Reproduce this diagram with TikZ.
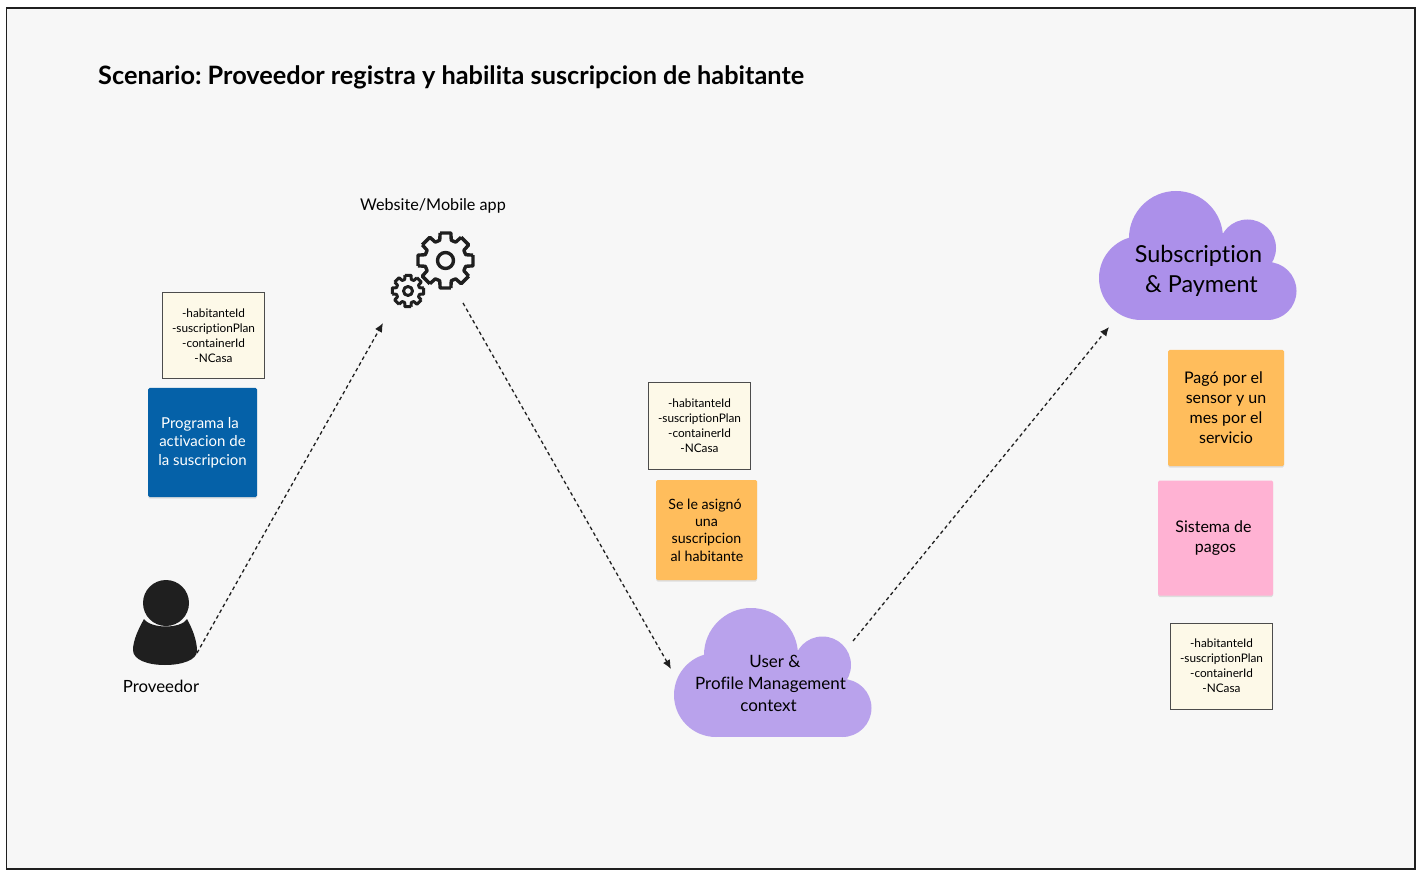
\documentclass[tikz,border=0pt]{standalone}
\usepackage{fontspec}
\setmainfont{Lato}[Ligatures=NoCommon]
\frenchspacing
\usetikzlibrary{arrows.meta,shadows}
\definecolor{bgc}{HTML}{F7F7F7}
\definecolor{ink}{HTML}{1F1F1F}
\definecolor{creamc}{HTML}{FDF9E8}
\definecolor{bluec}{HTML}{0561A8}
\definecolor{orangec}{HTML}{FFBD5C}
\definecolor{pinkc}{HTML}{FFB2D3}
\definecolor{cloudA}{HTML}{B9A2EC}
\definecolor{cloudB}{HTML}{AC90EA}
\tikzset{
  x=1pt,y=-1pt,
  notebox/.style={draw=ink!80,line width=1pt,fill=creamc,align=center,inner sep=0pt,font=\fontsize{11.8}{15}\selectfont,text=black,minimum width=102pt,minimum height=86pt},
  sticky/.style={fill=#1,rounded corners=1.5pt,align=center,inner sep=0pt,font=\fontsize{16}{20}\selectfont,text=black,general shadow={fill=black,opacity=.10,shadow xshift=0pt,shadow yshift=-1.5pt}},
  flow/.style={draw=ink,line width=1.3pt,dash pattern=on 3.6pt off 3pt,-{Latex[length=9pt,width=8pt]}},
  caption/.style={inner sep=0pt,text=black},
  gearline/.style={draw=ink,line join=round},
  cloudtext/.style={align=center,inner sep=0pt,text=black}
}
\newcommand{\cloudblob}[3]{%
  \begin{scope}[shift={(#1,#2)}]
    \fill[#3] (750,655) circle[radius=47];
    \fill[#3] (821.5,665) circle[radius=28.5];
    \fill[#3] (715,695) circle[radius=42];
    \fill[#3] (841.5,708) circle[radius=29];
    \fill[#3] (715,670) rectangle (841.5,737);
  \end{scope}}
\newcommand{\gearshape}[5]{% cx cy outer root width
  \draw[gearline,line width=#5] (#1,#2)
   \foreach \k in {0,...,7}{
     ++(0,0) ({#1+#3*cos(45*\k-11)},{#2+#3*sin(45*\k-11)})
     -- ({#1+#3*cos(45*\k+11)},{#2+#3*sin(45*\k+11)})
     -- ({#1+#4*cos(45*\k+16)},{#2+#4*sin(45*\k+16)})
     -- ({#1+#4*cos(45*\k+29)},{#2+#4*sin(45*\k+29)})
     -- ({#1+#3*cos(45*\k+34)},{#2+#3*sin(45*\k+34)})
   };}
\begin{document}
\begin{tikzpicture}
\useasboundingbox (0,0) rectangle (1419,874);
\fill[white] (0,0) rectangle (1419,874);
\draw[draw=ink,line width=1.6pt,fill=bgc] (6.5,8) rectangle (1415,869);
\node[anchor=west,inner sep=0pt,font=\fontsize{25.3}{30}\selectfont\bfseries,text=black] (title) at (98,77.5) {Scenario: Proveedor registra y habilita suscripcion de habitante};

% person
\fill[ink] (166,603) circle[radius=23];
\fill[ink] (144,619) .. controls (151,629) and (181,629) .. (187,619)
  .. controls (192,628) and (197,640) .. (197,651)
  .. controls (197,660) and (182,665) .. (165,665)
  .. controls (148,665) and (133,660) .. (133,650)
  .. controls (133,640) and (139,628) .. (144,619) -- cycle;
\node[caption,font=\fontsize{16.8}{20}\selectfont] (prov) at (161,686.5) {Proveedor};
\coordinate (provOut) at (197,653);

% gears
\node[caption,font=\fontsize{16.2}{20}\selectfont] (web) at (433,205.5) {Website/Mobile app};
\gearshape{445.5}{260.5}{28}{21}{3.4pt}
\draw[gearline,line width=3.4pt] (445.5,260.5) circle[radius=8];
\gearshape{408}{291}{16}{12}{3pt}
\draw[gearline,line width=3pt] (408,291) circle[radius=4.5];
\coordinate (appIn) at (383,323);
\coordinate (appOut) at (463,303);

% clouds
\cloudblob{1}{0}{cloudA}
\cloudblob{426}{-417}{cloudB}
\node[cloudtext,font=\fontsize{17}{22}\selectfont] (upm) at (770.5,683.5) {\hspace*{9pt}User \&\\Profile Management\\context\hspace*{4pt}};
\node[cloudtext,font=\fontsize{23.4}{30}\selectfont] (subs) at (1198.5,270.5) {Subscription\\\hspace*{6pt}\& Payment};
\coordinate (upmIn) at (671,669);
\coordinate (upmOut) at (853,641);
\coordinate (subsIn) at (1109,327);

% notes
\node[notebox] (n1) at (213.5,336) {-habitanteId\\-suscriptionPlan\\-containerId\\-NCasa};
\node[notebox] (n2) at (699.5,426) {-habitanteId\\-suscriptionPlan\\-containerId\\-NCasa};
\node[notebox] (n3) at (1221.5,666) {-habitanteId\\-suscriptionPlan\\-containerId\\-NCasa};

% stickies
\node[sticky=bluec,text=white,minimum width=109pt,minimum height=109pt,font=\fontsize{15}{18.5}\selectfont] (s1) at (202.5,442.5) {\raisebox{-0.7pt}{Programa la}\hspace*{5pt}\\\raisebox{-0.7pt}{activacion de}\hspace*{5pt}\\\raisebox{-0.7pt}{la suscripcion}};
\node[sticky=orangec,minimum width=101pt,minimum height=100pt,font=\fontsize{14.2}{17.4}\selectfont] (s2) at (706.5,530) {Se le asignó\hspace*{3pt}\\una\hspace*{3pt}\\suscripcion\hspace*{3pt}\\\hspace*{1pt}al habitante};
\node[sticky=orangec,minimum width=116pt,minimum height=116pt] (s3) at (1226,408) {Pagó por el\hspace*{5pt}\\sensor y un\hspace*{5pt}\\mes por el\hspace*{5pt}\\servicio};
\node[sticky=pinkc,minimum width=115pt,minimum height=115pt] (s4) at (1215.5,538) {Sistema de\hspace*{4pt}\\pagos};

% connectors
\draw[flow] (provOut) -- (appIn);
\draw[flow] (appOut) -- (upmIn);
\draw[flow] (upmOut) -- (subsIn);
\end{tikzpicture}
\end{document}
